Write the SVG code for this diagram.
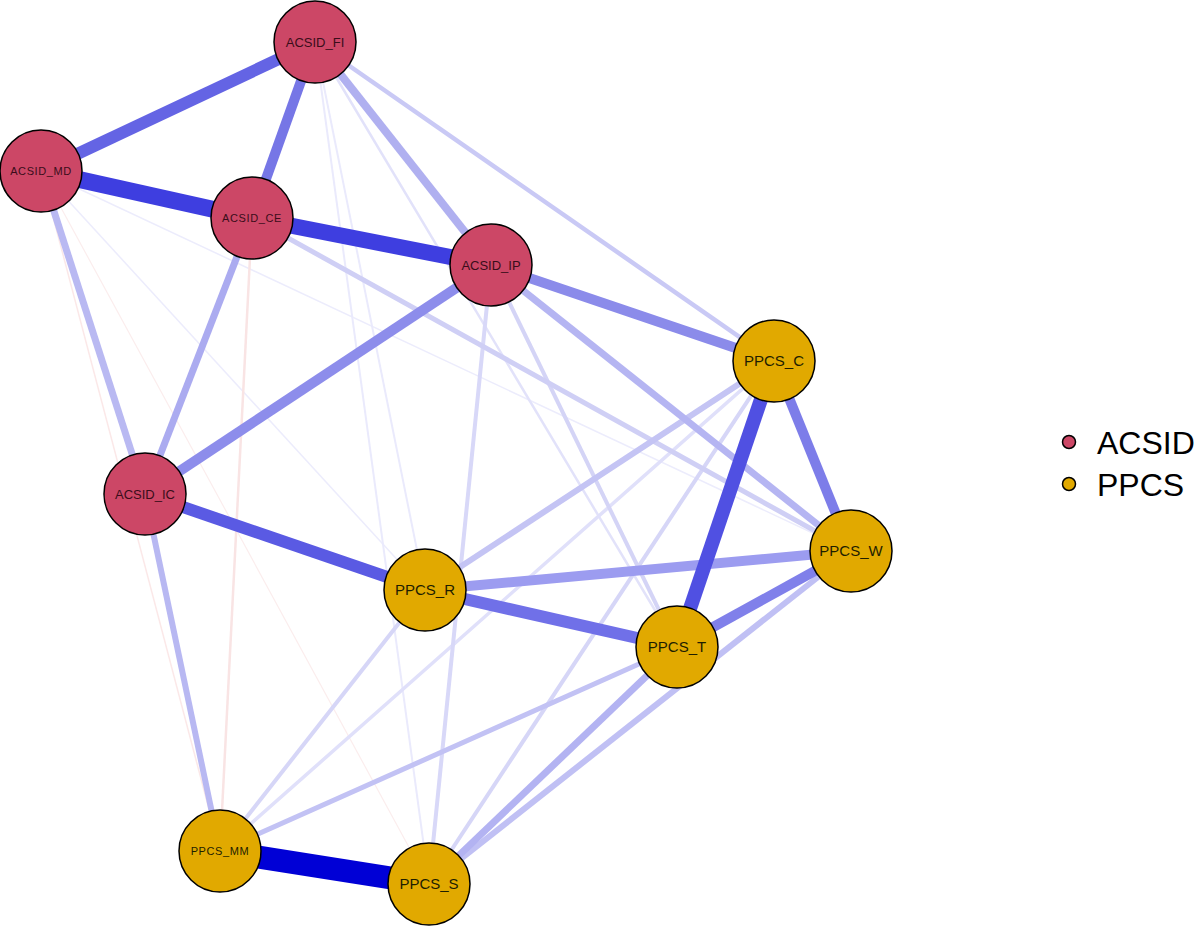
<svg xmlns="http://www.w3.org/2000/svg" width="1200" height="926" viewBox="0 0 1200 926">
<style>
.e{fill:none;stroke-linecap:butt}
.n circle{stroke:#000;stroke-width:1.5}
.a circle{fill:#CC4766}
.p circle{fill:#E1A900}
.n text{font-family:"Liberation Sans",Arial,sans-serif;text-anchor:middle}
.a text{fill:#3a0d1a;font-size:13px}
.p text{fill:#1e1e00;font-size:15px}
.n text.s{font-size:11px;letter-spacing:0.6px}
.lg{font-family:"Liberation Sans",Arial,sans-serif;font-size:32px;fill:#000}
</style>
<rect width="1200" height="926" fill="#fff"/>
<g id="edges">
<line class="e" x1="41" y1="171" x2="429" y2="884" stroke="#fbeded" stroke-width="1.2"/>
<line class="e" x1="41" y1="171" x2="220" y2="851" stroke="#fbe8e8" stroke-width="1.5"/>
<line class="e" x1="41" y1="171" x2="851" y2="551" stroke="#ececfc" stroke-width="1.5"/>
<line class="e" x1="41" y1="171" x2="425" y2="590" stroke="#ececfc" stroke-width="1.5"/>
<line class="e" x1="252" y1="218" x2="220" y2="851" stroke="#f9e4e4" stroke-width="2.5"/>
<line class="e" x1="315" y1="42" x2="429" y2="884" stroke="#eaeafc" stroke-width="2"/>
<line class="e" x1="315" y1="42" x2="425" y2="590" stroke="#eaeafc" stroke-width="2"/>
<line class="e" x1="315" y1="42" x2="677" y2="647" stroke="#e2e2fa" stroke-width="2.5"/>
<line class="e" x1="220" y1="851" x2="774" y2="361" stroke="#e0e0fa" stroke-width="3.5"/>
<line class="e" x1="429" y1="884" x2="491" y2="265" stroke="#d8d8f8" stroke-width="4"/>
<line class="e" x1="491" y1="265" x2="677" y2="647" stroke="#d4d4f6" stroke-width="4"/>
<line class="e" x1="429" y1="884" x2="774" y2="361" stroke="#d6d6f7" stroke-width="4"/>
<line class="e" x1="220" y1="851" x2="425" y2="590" stroke="#d6d6f7" stroke-width="4"/>
<line class="e" x1="315" y1="42" x2="774" y2="361" stroke="#c9c9f5" stroke-width="4.5"/>
<line class="e" x1="252" y1="218" x2="851" y2="551" stroke="#cfcff5" stroke-width="5"/>
<line class="e" x1="220" y1="851" x2="677" y2="647" stroke="#c2c2f4" stroke-width="5"/>
<line class="e" x1="774" y1="361" x2="425" y2="590" stroke="#c4c4f4" stroke-width="6"/>
<line class="e" x1="429" y1="884" x2="851" y2="551" stroke="#c0c0f4" stroke-width="6"/>
<line class="e" x1="220" y1="851" x2="145" y2="494" stroke="#b8b8f2" stroke-width="6"/>
<line class="e" x1="41" y1="171" x2="145" y2="494" stroke="#b9b9f2" stroke-width="7"/>
<line class="e" x1="491" y1="265" x2="851" y2="551" stroke="#b5b5f2" stroke-width="7"/>
<line class="e" x1="429" y1="884" x2="677" y2="647" stroke="#b3b3f2" stroke-width="7"/>
<line class="e" x1="252" y1="218" x2="145" y2="494" stroke="#ababf0" stroke-width="7"/>
<line class="e" x1="315" y1="42" x2="491" y2="265" stroke="#b0b0f0" stroke-width="8"/>
<line class="e" x1="425" y1="590" x2="851" y2="551" stroke="#9c9cf0" stroke-width="10"/>
<line class="e" x1="491" y1="265" x2="145" y2="494" stroke="#8d8deb" stroke-width="10"/>
<line class="e" x1="491" y1="265" x2="774" y2="361" stroke="#8b8bea" stroke-width="10"/>
<line class="e" x1="677" y1="647" x2="851" y2="551" stroke="#8080ea" stroke-width="10"/>
<line class="e" x1="774" y1="361" x2="851" y2="551" stroke="#7d7de9" stroke-width="10"/>
<line class="e" x1="315" y1="42" x2="252" y2="218" stroke="#7676e6" stroke-width="10"/>
<line class="e" x1="425" y1="590" x2="677" y2="647" stroke="#7070e8" stroke-width="12"/>
<line class="e" x1="315" y1="42" x2="41" y2="171" stroke="#6464e4" stroke-width="12"/>
<line class="e" x1="145" y1="494" x2="425" y2="590" stroke="#5a5ae3" stroke-width="12"/>
<line class="e" x1="774" y1="361" x2="677" y2="647" stroke="#5050e2" stroke-width="14"/>
<line class="e" x1="252" y1="218" x2="491" y2="265" stroke="#3e3ee0" stroke-width="16"/>
<line class="e" x1="41" y1="171" x2="252" y2="218" stroke="#3e3ee0" stroke-width="17"/>
<line class="e" x1="220" y1="851" x2="429" y2="884" stroke="#0000d6" stroke-width="23"/>
</g>
<g id="ACSID_FI" class="n a"><circle cx="315" cy="42" r="41"/><text x="315" y="46.7">ACSID_FI</text></g>
<g id="ACSID_MD" class="n a"><circle cx="41" cy="171" r="41"/><text class="s" x="41" y="175">ACSID_MD</text></g>
<g id="ACSID_CE" class="n a"><circle cx="252" cy="218" r="41"/><text class="s" x="252" y="222">ACSID_CE</text></g>
<g id="ACSID_IP" class="n a"><circle cx="491" cy="265" r="41"/><text x="491" y="269.7">ACSID_IP</text></g>
<g id="ACSID_IC" class="n a"><circle cx="145" cy="494" r="41"/><text x="145" y="498.7">ACSID_IC</text></g>
<g id="PPCS_C" class="n p"><circle cx="774" cy="361" r="41"/><text x="774" y="366.4">PPCS_C</text></g>
<g id="PPCS_W" class="n p"><circle cx="851" cy="551" r="41"/><text x="851" y="556.4">PPCS_W</text></g>
<g id="PPCS_R" class="n p"><circle cx="425" cy="590" r="41"/><text x="425" y="595.4">PPCS_R</text></g>
<g id="PPCS_T" class="n p"><circle cx="677" cy="647" r="41"/><text x="677" y="652.4">PPCS_T</text></g>
<g id="PPCS_MM" class="n p"><circle cx="220" cy="851" r="41"/><text class="s" x="220" y="855">PPCS_MM</text></g>
<g id="PPCS_S" class="n p"><circle cx="429" cy="884" r="41"/><text x="429" y="889.4">PPCS_S</text></g>
<g id="legend">
<circle cx="1069" cy="442" r="6.5" fill="#CC4766" stroke="#000" stroke-width="1.5"/>
<circle cx="1069" cy="484" r="6.5" fill="#E1A900" stroke="#000" stroke-width="1.5"/>
<text class="lg" x="1097" y="454">ACSID</text>
<text class="lg" x="1097" y="496">PPCS</text>
</g>
</svg>
